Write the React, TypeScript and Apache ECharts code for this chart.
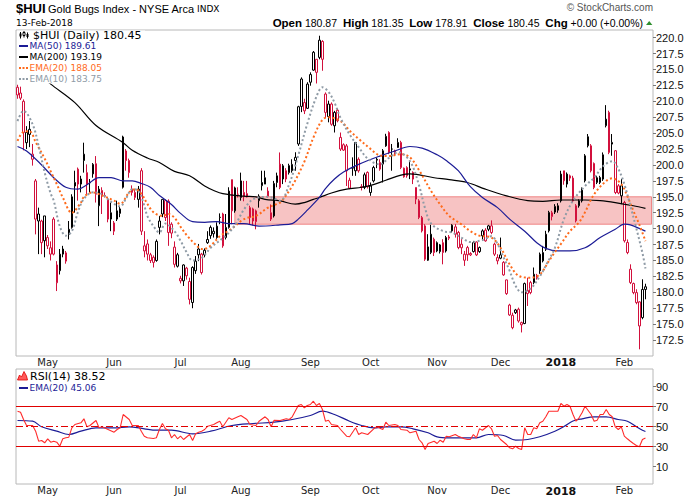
import React, { useEffect, useRef } from "react";
import * as echarts from "echarts";

// ---------- calendar ----------
const firstDay = "2017-04-18";
const holidays = ["2017-05-29", "2017-07-04", "2017-09-04", "2017-11-23", "2017-12-25", "2018-01-01", "2018-01-15"];
const padDays = 2;
const monthNames = ["Jan", "Feb", "Mar", "Apr", "May", "Jun", "Jul", "Aug", "Sep", "Oct", "Nov", "Dec"];

// ---------- daily candles [open, high, low, close] ----------
const apr17 = [
  [212.2, 212.6, 210.4, 211.0], [211.3, 212.3, 210.2, 210.5], [210.0, 210.3, 202.3, 205.1],
  [203.5, 206.1, 202.5, 205.1], [204.8, 206.9, 202.8, 205.6], [201.7, 203.3, 199.9, 200.9],
  [197.5, 197.8, 189.1, 191.5], [191.2, 193.3, 186.0, 192.3], [191.2, 191.4, 186.0, 187.8],
];
const may17 = [
  [188.1, 192.0, 185.5, 192.0], [188.6, 189.0, 186.8, 187.3], [186.0, 188.0, 185.0, 187.0],
  [191.5, 191.8, 185.8, 186.0], [184.3, 184.9, 180.2, 181.5], [183.4, 186.8, 182.8, 186.0],
  [186.0, 187.3, 185.5, 186.8], [184.9, 186.5, 184.5, 186.2], [189.1, 191.2, 188.3, 189.9],
  [190.2, 195.4, 190.0, 195.0], [196.7, 199.1, 192.5, 197.25], [199.35, 199.6, 194.4, 197.0],
  [197.0, 198.3, 195.7, 197.8], [201.7, 203.5, 198.8, 200.7], [198.8, 200.1, 195.4, 197.0],
  [197.2, 197.8, 195.7, 197.3], [198.6, 200.3, 198.0, 200.1], [200.2, 201.4, 194.1, 195.4],
  [193.6, 196.7, 190.4, 196.2], [195.2, 196.5, 192.3, 196.0], [195.2, 195.7, 194.9, 195.1],
  [194.6, 195.0, 191.0, 191.5],
];
const jun17 = [
  [191.5, 194.1, 189.6, 192.5], [189.6, 191.2, 189.0, 190.9], [192.8, 194.4, 191.2, 191.5],
  [192.4, 193.5, 191.8, 193.1], [196.5, 204.6, 196.3, 204.4], [202.2, 202.5, 199.1, 200.7],
  [200.7, 201.0, 198.0, 198.8], [195.7, 196.8, 195.2, 196.2], [195.7, 196.2, 194.5, 194.9],
  [194.6, 196.7, 193.3, 196.2], [199.1, 199.5, 189.0, 189.6], [187.3, 189.6, 185.5, 186.5],
  [187.6, 188.3, 185.0, 186.0], [185.0, 186.2, 184.6, 185.9], [185.5, 185.8, 183.9, 184.7],
  [185.0, 188.3, 184.8, 188.0], [190.2, 192.0, 189.1, 191.2], [192.3, 194.6, 191.8, 194.6],
  [194.4, 194.6, 191.2, 191.75], [194.3, 194.6, 187.3, 189.4], [190.7, 191.0, 188.5, 189.3],
  [187.1, 188.0, 183.9, 184.4],
];
const jul17 = [
  [184.1, 186.2, 183.9, 185.9], [182.2, 182.6, 181.4, 181.8], [181.8, 184.4, 181.0, 184.3],
  [183.8, 184.0, 182.0, 182.6], [181.7, 182.3, 178.1, 178.9], [178.4, 184.1, 177.5, 183.9],
  [183.4, 185.7, 182.9, 184.9], [186.8, 187.6, 184.9, 185.9], [186.0, 186.2, 182.8, 183.1],
  [185.9, 186.9, 185.5, 186.6], [187.8, 189.6, 187.6, 188.3], [190.2, 190.5, 188.4, 188.9],
  [189.2, 190.2, 188.6, 189.6], [188.6, 191.0, 188.4, 190.4], [191.75, 192.4, 190.7, 191.8],
  [192.3, 192.5, 187.0, 187.3], [188.6, 192.3, 188.3, 190.2], [190.2, 196.5, 190.0, 195.9],
  [197.7, 197.7, 190.7, 192.8], [192.8, 196.6, 192.5, 196.4],
];
const aug17 = [
  [195.4, 196.5, 194.9, 195.4], [194.9, 198.8, 194.4, 197.5], [195.7, 197.5, 194.3, 195.05],
  [195.5, 197.5, 194.9, 195.0], [193.3, 193.6, 190.7, 191.75], [193.1, 193.3, 190.5, 191.2],
  [192.8, 193.0, 189.9, 191.1], [195.1, 195.4, 193.3, 194.4], [197.25, 199.1, 196.0, 196.75],
  [197.0, 199.1, 197.0, 198.0], [195.9, 196.5, 194.9, 195.1], [191.5, 193.8, 191.2, 192.5],
  [192.0, 197.5, 191.75, 197.1], [198.3, 198.8, 196.5, 197.25], [200.14, 201.97, 196.2, 196.47],
  [197.8, 200.14, 197.0, 199.87], [199.1, 199.5, 197.3, 197.8], [198.8, 200.2, 198.5, 199.9],
  [199.1, 200.9, 198.8, 200.1], [200.7, 202.0, 199.1, 201.2], [203.3, 209.3, 203.0, 209.15],
  [213.5, 213.76, 208.3, 209.2], [209.8, 210.4, 208.0, 208.5],
];
const sep17 = [
  [208.9, 213.0, 208.8, 212.7], [214.2, 214.55, 212.45, 213.0], [214.9, 217.9, 214.8, 217.7],
  [216.6, 216.6, 212.8, 214.55], [216.9, 220.3, 216.6, 219.6], [219.4, 219.6, 214.8, 216.6],
  [211.14, 211.4, 207.4, 208.26], [207.6, 210.1, 206.7, 209.57], [209.57, 209.83, 206.16, 206.4],
  [206.16, 208.5, 205.1, 208.26], [208.6, 208.9, 206.7, 206.95], [204.33, 205.1, 202.2, 202.5],
  [203.18, 203.4, 202.2, 202.34], [203.0, 203.3, 196.7, 199.09], [196.36, 198.0, 196.2, 197.6],
  [199.5, 201.2, 198.3, 199.6], [199.09, 203.6, 198.3, 203.54], [200.9, 201.2, 198.8, 199.09],
  [196.6, 197.0, 196.0, 196.47], [196.47, 198.8, 196.2, 198.46],
];
const oct17 = [
  [198.83, 199.0, 196.3, 196.57], [195.68, 197.25, 195.16, 196.7], [197.5, 199.87, 197.25, 199.6],
  [200.9, 201.18, 199.5, 200.76], [200.4, 200.9, 199.1, 199.35], [200.14, 202.5, 197.25, 202.23],
  [203.0, 204.9, 202.85, 204.5], [205.1, 205.3, 201.7, 201.97], [202.5, 203.3, 199.1, 202.5],
  [202.23, 202.4, 201.5, 201.7], [203.54, 204.2, 202.7, 202.75], [203.54, 203.8, 199.35, 199.6],
  [198.14, 199.6, 198.0, 199.5], [199.6, 199.8, 198.0, 198.3], [199.4, 200.66, 197.78, 199.2],
  [198.83, 199.0, 197.0, 197.78], [196.47, 196.47, 193.85, 194.63], [194.37, 194.63, 191.5, 191.75],
  [191.75, 192.0, 189.4, 189.65], [190.44, 190.7, 184.94, 185.2], [185.04, 189.13, 184.94, 187.14],
  [186.25, 190.6, 186.0, 189.13],
];
const nov17 = [
  [188.34, 188.6, 185.7, 186.25], [187.8, 188.0, 186.3, 186.5], [186.4, 187.6, 186.1, 187.45],
  [187.8, 188.34, 184.4, 186.25], [186.5, 188.87, 186.25, 188.6], [188.7, 189.0, 188.2, 188.5],
  [190.55, 190.7, 189.4, 189.65], [190.28, 190.7, 188.6, 189.13], [189.4, 189.65, 186.77, 187.03],
  [187.56, 188.34, 186.0, 187.0], [185.04, 186.5, 184.15, 185.99], [187.03, 187.3, 184.94, 185.9],
  [186.1, 186.3, 185.7, 185.88], [186.4, 188.08, 186.25, 187.8], [187.9, 188.0, 185.7, 185.88],
  [186.4, 187.2, 186.2, 187.03], [188.87, 189.9, 188.08, 189.65], [189.76, 190.07, 187.95, 188.08],
  [189.9, 190.6, 189.6, 190.44], [190.44, 191.3, 189.13, 189.4], [187.56, 187.8, 185.7, 185.99],
];
const dec17 = [
  [184.94, 185.99, 184.4, 185.46], [185.36, 188.6, 185.2, 185.88], [184.7, 184.9, 182.6, 182.74],
  [181.95, 182.0, 179.6, 179.8], [178.0, 178.2, 176.3, 176.45], [174.45, 176.8, 174.2, 176.4],
  [176.8, 177.4, 176.6, 177.23], [177.34, 177.6, 175.24, 175.5], [175.24, 175.4, 173.7, 174.9],
  [175.1, 181.53, 175.0, 181.37], [179.8, 182.3, 177.86, 180.3], [181.53, 181.8, 179.7, 179.96],
  [181.53, 183.9, 181.27, 182.84], [182.58, 182.9, 182.0, 182.3], [183.37, 186.25, 182.9, 185.99],
  [184.94, 187.3, 184.7, 186.25], [186.77, 189.66, 186.5, 189.13], [189.66, 192.8, 189.4, 192.54],
  [192.5, 192.8, 191.3, 191.9], [193.5, 193.85, 192.3, 192.6],
];
const jan18 = [
  [193.6, 194.0, 192.5, 192.9], [194.37, 199.09, 194.11, 198.57], [199.09, 199.09, 196.9, 197.52],
  [197.0, 198.83, 196.47, 198.57], [198.3, 198.5, 197.5, 197.94], [197.94, 198.3, 194.11, 194.37],
  [193.6, 193.85, 190.97, 191.23], [193.59, 194.6, 193.3, 194.37], [194.37, 196.47, 194.11, 196.05],
  [197.52, 201.71, 197.26, 201.45], [203.02, 204.86, 202.76, 204.44], [203.02, 203.28, 198.83, 199.09],
  [200.24, 200.4, 196.2, 196.47], [198.0, 198.3, 197.0, 197.26], [197.26, 198.3, 197.0, 198.04],
  [197.78, 201.97, 197.5, 201.6], [206.17, 209.4, 205.9, 207.2], [208.26, 208.53, 201.7, 201.97],
  [203.55, 204.86, 201.45, 203.28], [202.24, 202.34, 195.42, 195.68], [196.73, 197.0, 195.4, 195.6],
];
const feb18 = [
  [195.16, 197.78, 193.85, 196.73], [194.11, 194.37, 187.82, 188.09], [187.82, 188.3, 185.99, 186.25],
  [183.63, 184.4, 181.3, 181.53], [181.38, 181.53, 179.7, 179.96], [179.96, 180.48, 178.13, 178.39],
  [178.5, 178.6, 171.05, 174.72], [176.03, 182.05, 175.77, 180.45], [180.87, 181.35, 178.91, 180.45],
];

// ---------- overlays: [trading-day index, value] ----------
const ma50 = [
  [0, 202.9], [3, 202.2], [8, 200.0], [12, 198.0], [16, 196.5], [20, 196.2], [23, 196.9], [27, 198.0],
  [31, 198.0], [35, 197.5], [38, 197.5], [41, 197.1], [44, 196.5], [47, 195.2], [51, 193.8], [54, 192.4],
  [58, 191.1], [62, 191.0], [66, 191.1], [70, 190.8], [75, 190.8], [80, 190.4], [87, 190.6], [91, 190.8],
  [93, 191.5], [96, 192.9], [100, 194.9], [102, 196.3], [105, 197.8], [108, 198.9], [113, 200.1], [120, 201.4],
  [125, 202.2], [130, 202.9], [134, 202.65], [139, 201.6], [142, 200.7], [146, 199.1], [150, 196.6], [154, 194.9],
  [159, 193.3], [163, 191.5], [168, 189.6], [172, 187.8], [175, 186.9], [179, 186.5], [183, 186.5], [188, 187.0],
  [193, 188.6], [198, 189.9], [201, 190.7], [203, 190.6], [208, 189.61],
];
const ma200 = [
  [9, 213.5], [11, 212.7], [19, 209.8], [26, 206.2], [35, 203.5], [38, 202.3], [43, 201.1], [47, 200.4],
  [52, 199.0], [57, 198.3], [62, 196.7], [65, 196.0], [68, 195.5], [75, 195.1], [79, 195.0], [82, 194.6],
  [87, 194.35], [92, 193.85], [95, 194.1], [98, 194.6], [100, 194.9], [104, 195.6], [109, 196.2], [114, 196.5],
  [117, 196.8], [122, 197.6], [127, 198.4], [130, 198.6], [138, 198.0], [143, 197.7], [149, 197.25], [155, 196.2],
  [162, 195.15], [169, 194.4], [174, 194.3], [180, 194.5], [188, 194.5], [193, 194.4], [198, 194.1], [204, 193.6],
  [208, 193.19],
];
const ema20 = [
  [0, 203.8], [2, 205.2], [4, 205.3], [6, 203.6], [9, 201.0], [11, 199.0], [13, 197.0], [15, 194.9],
  [18, 192.5], [21, 194.1], [22, 195.0], [25, 195.7], [28, 195.2], [32, 194.4], [34, 193.9], [37, 195.7],
  [39, 196.2], [41, 195.5], [43, 193.9], [45, 192.6], [48, 192.0], [50, 192.3], [52, 191.7], [54, 190.3],
  [56, 189.0], [59, 187.5], [61, 186.8], [63, 187.0], [65, 187.8], [67, 188.8], [70, 189.7], [72, 190.4],
  [74, 191.2], [76, 191.7], [79, 192.0], [83, 193.3], [87, 194.1], [88, 194.6], [91, 196.7], [95, 200.5],
  [98, 204.3], [101, 207.1], [103, 207.5], [107, 206.9], [110, 205.4], [113, 204.1], [117, 202.5], [120, 201.5],
  [123, 201.4], [127, 201.7], [130, 201.2], [133, 199.2], [137, 195.9], [140, 193.8], [143, 192.0], [147, 190.7],
  [150, 189.6], [153, 188.9], [157, 188.6], [160, 187.0], [163, 184.4], [166, 182.6], [170, 182.3], [173, 182.8],
  [176, 184.9], [178, 186.3], [180, 187.6], [183, 189.6], [186, 191.0], [188, 192.6], [191, 195.4], [195, 197.5],
  [197, 197.9], [200, 197.0], [202, 195.1], [204, 192.8], [206, 190.6], [208, 188.05],
];
const ema10 = [
  [0, 206.9], [2, 208.5], [5, 206.4], [7, 203.0], [9, 198.8], [11, 195.5], [12, 194.4], [14, 190.4],
  [16, 188.9], [18, 189.6], [20, 192.6], [22, 194.7], [25, 195.7], [28, 195.4], [31, 194.2], [34, 193.5],
  [36, 194.8], [38, 196.2], [40, 196.0], [42, 193.6], [43, 192.0], [45, 190.4], [47, 189.4], [49, 190.8],
  [52, 189.6], [54, 188.1], [56, 186.3], [58, 185.0], [61, 185.4], [64, 187.0], [69, 188.9], [72, 190.5],
  [75, 193.0], [78, 194.6], [83, 195.0], [87, 194.4], [90, 197.0], [93, 201.5], [96, 206.5], [99, 210.7],
  [101, 212.2], [103, 211.5], [105, 209.8], [107, 207.4], [110, 204.8], [113, 202.8], [116, 201.0], [120, 200.1],
  [123, 201.1], [126, 202.0], [130, 200.6], [133, 196.8], [135, 193.2], [137, 190.8], [141, 189.6], [144, 189.4],
  [147, 188.6], [150, 187.9], [154, 188.2], [157, 188.8], [159, 187.6], [161, 185.5], [163, 183.4], [165, 181.0],
  [167, 180.0], [170, 180.6], [173, 182.5], [175, 184.2], [178, 187.0], [181, 191.5], [184, 194.4], [188, 196.7],
  [191, 198.0], [194, 199.8], [197, 200.6], [199, 199.4], [201, 197.0], [203, 193.6], [205, 190.0], [207, 186.2],
  [208, 183.75],
];
const zoneStart = 72;
const zoneHigh = 195.0;
const zoneLow = 190.7;

// ---------- RSI panel ----------
const rsi14 = [
  [0, 65.3], [1, 64.3], [2, 57], [3, 51], [5, 51], [6, 45.3], [7, 35.3], [8, 36], [9, 33.7], [10, 37.7],
  [11, 34.3], [12, 35.3], [13, 34.3], [14, 30.3], [15, 37.7], [16, 38.7], [17, 39.3], [18, 48.7], [19, 52],
  [21, 53.7], [22, 57.7], [23, 49.7], [24, 51], [26, 56], [27, 48.7], [28, 49.7], [30, 47], [32, 44.3],
  [33, 47], [34, 48.7], [35, 62], [37, 57], [38, 51], [40, 51], [41, 45.3], [42, 40.3], [43, 38.7], [45, 38],
  [46, 38.7], [47, 47], [48, 53], [49, 47.7], [50, 46.3], [51, 38.7], [52, 42], [53, 37.7], [54, 40.3],
  [55, 37], [57, 42], [58, 36], [59, 42.7], [60, 44.3], [61, 45.3], [62, 47], [63, 50.3], [65, 52],
  [66, 53.7], [67, 55.3], [68, 49.7], [70, 58.7], [71, 57], [73, 59.7], [74, 61], [76, 57], [77, 52],
  [79, 51], [80, 55.3], [82, 59.7], [83, 57], [84, 49.7], [85, 56.3], [87, 56], [89, 57.7], [90, 57],
  [91, 59.7], [93, 71], [94, 72], [95, 68.7], [96, 71], [97, 72], [98, 75.3], [99, 71], [100, 73], [101, 67],
  [102, 55.3], [103, 56.3], [104, 52], [106, 51], [107, 47], [109, 40.3], [110, 39.7], [112, 48.7], [113, 42],
  [114, 43.7], [116, 42], [118, 47.7], [119, 49.7], [121, 47], [122, 54.3], [123, 51], [125, 52], [126, 51],
  [127, 47], [129, 46.3], [130, 43.7], [132, 45.3], [133, 37], [134, 33.7], [135, 27], [136, 33], [138, 35.3],
  [139, 33], [140, 36.3], [141, 34.3], [142, 40.3], [143, 39.7], [145, 42], [146, 40.3], [148, 37.7], [149, 37],
  [150, 37], [151, 42], [152, 38.7], [153, 47.7], [154, 46.3], [156, 51], [157, 47.7], [158, 40.3], [159, 41],
  [160, 37], [162, 32], [163, 28.7], [164, 27.7], [165, 30.3], [166, 28], [167, 27], [168, 48.7], [169, 42],
  [170, 42], [171, 48.7], [172, 47.7], [173, 53.7], [174, 55.3], [175, 59.7], [176, 65.3], [177, 65.3],
  [179, 65.3], [180, 73], [181, 70.3], [182, 72], [183, 70.3], [184, 62], [185, 55.3], [186, 58.7], [187, 63.7],
  [188, 70.3], [190, 62], [191, 55.3], [192, 56.3], [193, 62], [194, 62], [195, 67], [196, 62], [197, 59.7],
  [198, 49.7], [199, 47], [200, 49.7], [201, 40.3], [202, 37.7], [203, 35.3], [204, 33], [205, 31], [206, 29.7],
  [207, 37], [208, 38.52],
];
const rsiEma20 = [
  [0, 56], [5, 55.3], [8, 49.7], [13, 45.3], [17, 42], [21, 45.3], [26, 48.7], [32, 48.7], [37, 49.7],
  [42, 47.7], [46, 46.3], [51, 46.3], [58, 42.7], [64, 45.3], [71, 51], [78, 53], [85, 54.3], [91, 57],
  [97, 61], [101, 65.3], [105, 62], [110, 55.3], [114, 51], [118, 48.7], [122, 49.7], [127, 49.7], [131, 47.7],
  [136, 43.7], [139, 39.7], [143, 38.7], [148, 38.7], [152, 38.7], [156, 42], [161, 41], [165, 36.3], [169, 37],
  [173, 39.7], [178, 45.3], [181, 50], [184, 55.5], [187, 57.7], [191, 59.7], [195, 59.7], [199, 57], [202, 55.3],
  [205, 49.7], [207, 46.3], [208, 45.06],
];
const rsiLevels = [30, 50, 70];

// ---------- tick labels ----------
const priceTicks = [172.5, 175, 177.5, 180, 182.5, 185, 187.5, 190, 192.5, 195, 197.5, 200, 202.5, 205, 207.5, 210, 212.5, 215, 217.5, 220];
const rsiTicks = [10, 30, 50, 70, 90];

function tradingDays(count: number): string[] {
  const out: string[] = [];
  let t = Date.parse(firstDay + "T00:00:00Z");
  while (out.length < count) {
    const d = new Date(t);
    const s = d.toISOString().slice(0, 10);
    const dow = d.getUTCDay();
    if (dow !== 0 && dow !== 6 && !holidays.includes(s)) out.push(s);
    t += 86400000;
  }
  return out;
}

export default function App() {
  const ref = useRef<HTMLDivElement>(null);

  useEffect(() => {
    if (!ref.current) return;
    const chart = echarts.init(ref.current, null, { renderer: "svg" });

    const RED = "#d2103c";
    const NAVY = "#1c1c96";
    const ORANGE = "#ff6a1a";
    const GREY = "#8f9ba6";
    const RSIRED = "#ff2b2b";

    const candles = [...apr17, ...may17, ...jun17, ...jul17, ...aug17, ...sep17, ...oct17, ...nov17, ...dec17, ...jan18, ...feb18];
    const dates = tradingDays(candles.length + padDays);

    const monthStart = new Set<number>();
    for (let i = 1; i < dates.length; i++) {
      if (dates[i].slice(5, 7) !== dates[i - 1].slice(5, 7)) monthStart.add(i);
    }

    const candleData = candles.map((c, i) => {
      const [o, h, l, cl] = c;
      const prev = i > 0 ? candles[i - 1][3] : Infinity;
      const ink = cl >= prev ? "#000" : RED;
      return {
        value: [o, cl, l, h],
        itemStyle: { color: "#fff", color0: ink, borderColor: ink, borderColor0: ink, borderColorDoji: ink },
      };
    });

    const last = candles[candles.length - 1];
    const prevClose = candles[candles.length - 2][3];
    const chg = last[3] - prevClose;
    const chgPct = (chg / prevClose) * 100;
    const sgn = (v: number) => (v >= 0 ? "+" : "") + v.toFixed(2);
    const lastDate = dates[candles.length - 1];
    const dateLabel = `${lastDate.slice(8, 10)}-${monthNames[+lastDate.slice(5, 7) - 1]}-${lastDate.slice(0, 4)}`;
    const lastVal = (arr: number[][]) => arr[arr.length - 1][1].toFixed(2);

    const monthFmt = (value: string) => {
      const m = +value.slice(5, 7);
      return m === 1 ? `{y|${value.slice(0, 4)}}` : `{m|${monthNames[m - 1]}}`;
    };
    const xAxisBase = (gridIndex: number, margin: number) => ({
      type: "category",
      gridIndex,
      data: dates,
      boundaryGap: true,
      axisLine: { show: false },
      axisTick: { show: false },
      splitLine: { show: false },
      axisLabel: {
        interval: (idx: number) => monthStart.has(idx),
        formatter: monthFmt,
        margin,
        padding: [0, 0, 0, 6],
        rich: {
          m: { fontFamily: "DejaVu Sans", fontSize: 10, color: "#222" },
          y: { fontFamily: "DejaVu Sans", fontSize: 11, fontWeight: "bold", color: "#111" },
        },
      },
    });

    const lineSeries = (data: number[][], color: string, width: number, dotted: boolean, z: number) => ({
      type: "line",
      xAxisIndex: 0,
      yAxisIndex: 0,
      data,
      symbol: "none",
      smooth: 0.35,
      silent: true,
      z,
      lineStyle: { color, width, type: dotted ? [2, 2.4] : "solid", cap: "butt" },
    });

    const lf9 = '9px "DejaVu Sans"';
    const lf11 = '11px "DejaVu Sans"';
    const Z = 100;

    const option: any = {
      animation: false,
      backgroundColor: "#fff",
      grid: [
        { left: 16, right: 47, top: 30, height: 326, show: true, borderColor: "#b8b8b8", borderWidth: 1 },
        { left: 16, right: 47, top: 369, height: 115, show: true, borderColor: "#b8b8b8", borderWidth: 1 },
      ],
      xAxis: [xAxisBase(0, 1), xAxisBase(1, 1.5)],
      yAxis: [
        {
          type: "value",
          gridIndex: 0,
          position: "right",
          min: 170,
          max: 221.2,
          axisLine: { show: false },
          splitLine: { show: false },
          axisTick: { show: true, length: 3, customValues: priceTicks, lineStyle: { color: "#777" } },
          axisLabel: {
            customValues: priceTicks,
            formatter: (v: number) => v.toFixed(1),
            margin: 3,
            fontFamily: "Liberation Sans",
            fontSize: 11,
            color: "#111",
          },
        },
        {
          type: "value",
          gridIndex: 1,
          position: "right",
          min: -7.5,
          max: 107.5,
          axisLine: { show: false },
          splitLine: { show: false },
          axisTick: { show: true, length: 3, customValues: rsiTicks, lineStyle: { color: "#777" } },
          axisLabel: {
            customValues: rsiTicks,
            margin: 3,
            fontFamily: "Liberation Sans",
            fontSize: 11,
            color: "#111",
          },
        },
      ],
      series: [
        {
          type: "candlestick",
          xAxisIndex: 0,
          yAxisIndex: 0,
          data: candleData,
          barWidth: 2,
          silent: true,
          z: 2,
          itemStyle: { borderWidth: 1 },
        },
        lineSeries(ma200, "#000", 1.2, false, 3),
        lineSeries(ma50, NAVY, 1.2, false, 3),
        lineSeries(ema20, ORANGE, 2, true, 3),
        lineSeries(ema10, GREY, 2, true, 3),
        {
          type: "line",
          xAxisIndex: 0,
          yAxisIndex: 0,
          data: [],
          z: 6,
          silent: true,
          markArea: {
            silent: true,
            itemStyle: { color: "rgba(232, 88, 88, 0.36)", borderColor: "#ef8585", borderWidth: 1 },
            data: [[{ xAxis: zoneStart, yAxis: zoneHigh }, { xAxis: dates.length - 1, yAxis: zoneLow }]],
          },
        },
        {
          type: "line",
          xAxisIndex: 1,
          yAxisIndex: 1,
          data: rsiEma20,
          symbol: "none",
          smooth: 0.35,
          silent: true,
          z: 3,
          lineStyle: { color: NAVY, width: 1.2 },
        },
        {
          type: "line",
          xAxisIndex: 1,
          yAxisIndex: 1,
          data: rsi14,
          symbol: "none",
          silent: true,
          z: 4,
          lineStyle: { color: RSIRED, width: 1.1 },
          markLine: {
            silent: true,
            symbol: "none",
            label: { show: false },
            lineStyle: { color: "#e00000", width: 1, type: "solid" },
            data: rsiLevels.map((v) => ({
              yAxis: v,
              lineStyle: { color: "#e00000", width: 1, type: v === 50 ? [7, 3, 2, 3] : "solid" },
            })),
          },
        },
      ],
      graphic: [
        // header
        { type: "text", x: 16, y: 8.5, z: Z, style: { text: "$HUI", font: 'bold 13px "Liberation Sans"', fill: "#000", verticalAlign: "middle" } },
        { type: "text", x: 48, y: 8.5, z: Z, style: { text: "Gold Bugs Index - NYSE Arca", font: '11px "Liberation Sans"', fill: "#000", verticalAlign: "middle" } },
        { type: "text", x: 197, y: 9, z: Z, style: { text: "INDX", font: '9px "DejaVu Sans"', fill: "#000", verticalAlign: "middle" } },
        { type: "text", x: 16, y: 22.7, z: Z, style: { text: dateLabel, font: '9px "DejaVu Sans"', fill: "#000", verticalAlign: "middle" } },
        { type: "text", x: 653, y: 7, z: Z, style: { text: "\u00A9 StockCharts.com", font: '10px "Liberation Sans"', fill: "#555", align: "right", verticalAlign: "middle" } },
        {
          type: "text",
          x: 643,
          y: 23.3,
          z: Z,
          style: {
            text: `{b|Open} ${last[0].toFixed(2)}  {b|High} ${last[1].toFixed(2)}  {b|Low} ${last[2].toFixed(2)}  {b|Close} ${last[3].toFixed(2)}  {b|Chg} ${sgn(chg)} (${sgn(chgPct)}%)`,
            font: '10.5px "Liberation Sans"',
            fill: "#000",
            align: "right",
            verticalAlign: "middle",
            rich: { b: { font: 'bold 11.5px "Liberation Sans"', fill: "#000" } },
          },
        },
        { type: "polygon", z: Z, shape: { points: [[646, 25], [649.2, 21], [652.4, 25]] }, style: { fill: "#2f8f2f" } },

        // price legend
        { type: "rect", z: Z, shape: { x: 17, y: 30.5, width: 128, height: 53 }, style: { fill: "#fff" } },
        { type: "line", z: Z + 1, shape: { x1: 20.5, y1: 32, x2: 20.5, y2: 38.5 }, style: { stroke: "#000", lineWidth: 1 } },
        { type: "rect", z: Z + 1, shape: { x: 19.5, y: 33.5, width: 2, height: 3 }, style: { fill: "#000" } },
        { type: "line", z: Z + 1, shape: { x1: 24, y1: 31, x2: 24, y2: 37.5 }, style: { stroke: "#000", lineWidth: 1 } },
        { type: "rect", z: Z + 1, shape: { x: 23, y: 32.5, width: 2, height: 3 }, style: { fill: "#fff", stroke: "#000", lineWidth: 1 } },
        { type: "line", z: Z + 1, shape: { x1: 27.5, y1: 32.5, x2: 27.5, y2: 38.5 }, style: { stroke: "#000", lineWidth: 1 } },
        { type: "rect", z: Z + 1, shape: { x: 26.5, y: 34, width: 2, height: 3 }, style: { fill: "#000" } },
        { type: "text", x: 33, y: 35, z: Z + 1, style: { text: `$HUI (Daily) ${last[3].toFixed(2)}`, font: lf11, fill: "#000", verticalAlign: "middle" } },

        { type: "line", z: Z + 1, shape: { x1: 19, y1: 46, x2: 28, y2: 46 }, style: { stroke: NAVY, lineWidth: 2 } },
        { type: "text", x: 29.5, y: 46.3, z: Z + 1, style: { text: `MA(50) ${lastVal(ma50)}`, font: lf9, fill: NAVY, verticalAlign: "middle" } },
        { type: "line", z: Z + 1, shape: { x1: 19, y1: 57, x2: 28, y2: 57 }, style: { stroke: "#000", lineWidth: 2 } },
        { type: "text", x: 29.5, y: 57.3, z: Z + 1, style: { text: `MA(200) ${lastVal(ma200)}`, font: lf9, fill: "#000", verticalAlign: "middle" } },
        { type: "line", z: Z + 1, shape: { x1: 19, y1: 68, x2: 28, y2: 68 }, style: { stroke: ORANGE, lineWidth: 2, lineDash: [2, 1.5] } },
        { type: "text", x: 29.5, y: 68.3, z: Z + 1, style: { text: `EMA(20) ${lastVal(ema20)}`, font: lf9, fill: ORANGE, verticalAlign: "middle" } },
        { type: "line", z: Z + 1, shape: { x1: 19, y1: 79, x2: 28, y2: 79 }, style: { stroke: GREY, lineWidth: 2, lineDash: [2, 1.5] } },
        { type: "text", x: 29.5, y: 79.3, z: Z + 1, style: { text: `EMA(10) ${lastVal(ema10)}`, font: lf9, fill: GREY, verticalAlign: "middle" } },

        // RSI legend
        {
          type: "polygon",
          z: Z,
          shape: { points: [[17.5, 380], [19.5, 375], [21.5, 377], [24, 371.5], [26.5, 376], [27.5, 380]] },
          style: { fill: "#ff5a5a", stroke: "#e00000", lineWidth: 0.8 },
        },
        { type: "text", x: 30, y: 376, z: Z, style: { text: `RSI(14) ${lastVal(rsi14)}`, font: lf11, fill: "#000", verticalAlign: "middle" } },
        { type: "line", z: Z, shape: { x1: 19, y1: 388, x2: 28, y2: 388 }, style: { stroke: NAVY, lineWidth: 2 } },
        { type: "text", x: 29.5, y: 388.3, z: Z, style: { text: `EMA(20) ${lastVal(rsiEma20)}`, font: lf9, fill: NAVY, verticalAlign: "middle" } },
      ],
    };

    chart.setOption(option);
    return () => chart.dispose();
  }, []);

  return (
    <div
      ref={ref}
      style={{ position: "fixed", left: 0, top: 0, width: 700, height: 500, background: "#fff" }}
    />
  );
}
